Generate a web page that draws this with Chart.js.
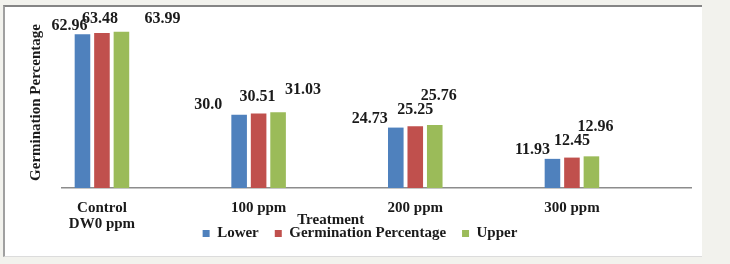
<!DOCTYPE html>
<html>
<head>
<meta charset="utf-8">
<script src="https://cdn.jsdelivr.net/npm/chart.js@4.4.1/dist/chart.umd.min.js"></script>
<style>
  html, body { margin: 0; padding: 0; background: #f2f2ed; width: 730px; height: 264px; overflow: hidden; }
  #frame {
    position: absolute; left: 3px; top: 5px; width: 699px; height: 252px;
    box-sizing: border-box; background: #fff;
    border-top: 2px solid #858585; border-left: 2px solid #a0a0a0; border-bottom: 1px solid #dcdcdc;
  }
  #chart { position: absolute; left: 0; top: 0; }
</style>
</head>
<body>
<div id="frame"></div>
<canvas id="chart" width="730" height="264"></canvas>
<script>
// Chart data
const treatments = [['Control', 'DW0 ppm'], '100 ppm', '200 ppm', '300 ppm'];
const lowerValues = [62.96, 30.0, 24.73, 11.93];
const germinationValues = [63.48, 30.51, 25.25, 12.45];
const upperValues = [63.99, 31.03, 25.76, 12.96];

// Where each value label sits, relative to the top centre of its bar (px)
const lowerLabelShift = [[-13, -8], [-31, -10], [-26, -9], [-20, -9]];
const germinationLabelShift = [[-2, -14], [-1, -17], [0, -16], [0, -17]];
const upperLabelShift = [[41, -13], [25, -22], [4, -29], [4, -29]];

const SERIF = '"Liberation Serif", "Times New Roman", serif';
const TEXT_COLOR = '#1a1a1a';

function formatValue(v) {
    return Number.isInteger(v) ? v.toFixed(1) : String(v);
}

function toPoints(values) {
    return values.map((v, i) => ({ x: i, y: v }));
}

// Draws the value labels above the bars and the x axis title
const valueLabels = {
    id: 'valueLabels',
    afterDatasetsDraw(chart) {
        const ctx = chart.ctx;
        ctx.save();
        ctx.font = 'bold 16px ' + SERIF;
        ctx.fillStyle = TEXT_COLOR;
        ctx.textAlign = 'center';
        ctx.textBaseline = 'middle';
        chart.data.datasets.forEach((ds, di) => {
            const meta = chart.getDatasetMeta(di);
            meta.data.forEach((bar, i) => {
                const shift = ds.labelShift[i];
                ctx.fillText(formatValue(ds.data[i].y), bar.x + shift[0], bar.y + shift[1]);
            });
        });

        const xScale = chart.scales.x;
        ctx.font = 'bold 15px ' + SERIF;
        ctx.fillText('Treatment', xScale.getPixelForValue(1.46), xScale.top + 32);
        ctx.restore();
    }
};

new Chart(document.getElementById('chart'), {
    type: 'bar',
    data: {
        datasets: [
            { label: 'Lower', data: toPoints(lowerValues), backgroundColor: '#4f81bd', labelShift: lowerLabelShift },
            { label: 'Germination Percentage', data: toPoints(germinationValues), backgroundColor: '#c0504d', labelShift: germinationLabelShift },
            { label: 'Upper', data: toPoints(upperValues), backgroundColor: '#9bbb59', labelShift: upperLabelShift }
        ]
    },
    options: {
        responsive: false,
        animation: false,
        devicePixelRatio: 1,
        layout: { padding: { left: 29, right: 39, top: 17, bottom: 13 } },
        datasets: {
            bar: { categoryPercentage: 0.373, barPercentage: 0.8 }
        },
        scales: {
            x: {
                type: 'linear',
                min: -0.255,
                max: 3.76,
                offset: false,
                grid: { display: false, drawTicks: false },
                border: { display: true, color: '#8c8c8c', width: 1.5 },
                afterBuildTicks: scale => {
                    scale.ticks = treatments.map((t, i) => ({ value: i }));
                },
                // the labels overlap the legend band like in the original,
                // so the axis box is kept short
                afterFit: scale => { scale.height = 22; },
                ticks: {
                    autoSkip: false,
                    maxRotation: 0,
                    // mirror stops the labels being clipped to the short axis box;
                    // with it the padding counts the other way
                    mirror: true,
                    padding: -28,
                    color: TEXT_COLOR,
                    font: { family: SERIF, size: 15, weight: 'bold', lineHeight: 1.1 },
                    callback: value => treatments[value]
                }
            },
            y: {
                min: 0,
                max: 70,
                grid: { display: false },
                border: { display: false },
                ticks: { display: false },
                afterFit: scale => { scale.width = 33; },
                title: {
                    display: true,
                    text: 'Germination Percentage',
                    padding: 0,
                    color: TEXT_COLOR,
                    font: { family: SERIF, size: 15, weight: 'bold', lineHeight: 1 }
                }
            }
        },
        plugins: {
            legend: {
                position: 'bottom',
                labels: {
                    boxWidth: 7,
                    boxHeight: 7,
                    padding: 16,
                    color: TEXT_COLOR,
                    font: { family: SERIF, size: 15, weight: 'bold' }
                }
            },
            tooltip: { enabled: false }
        }
    },
    plugins: [valueLabels]
});
</script>
</body>
</html>
